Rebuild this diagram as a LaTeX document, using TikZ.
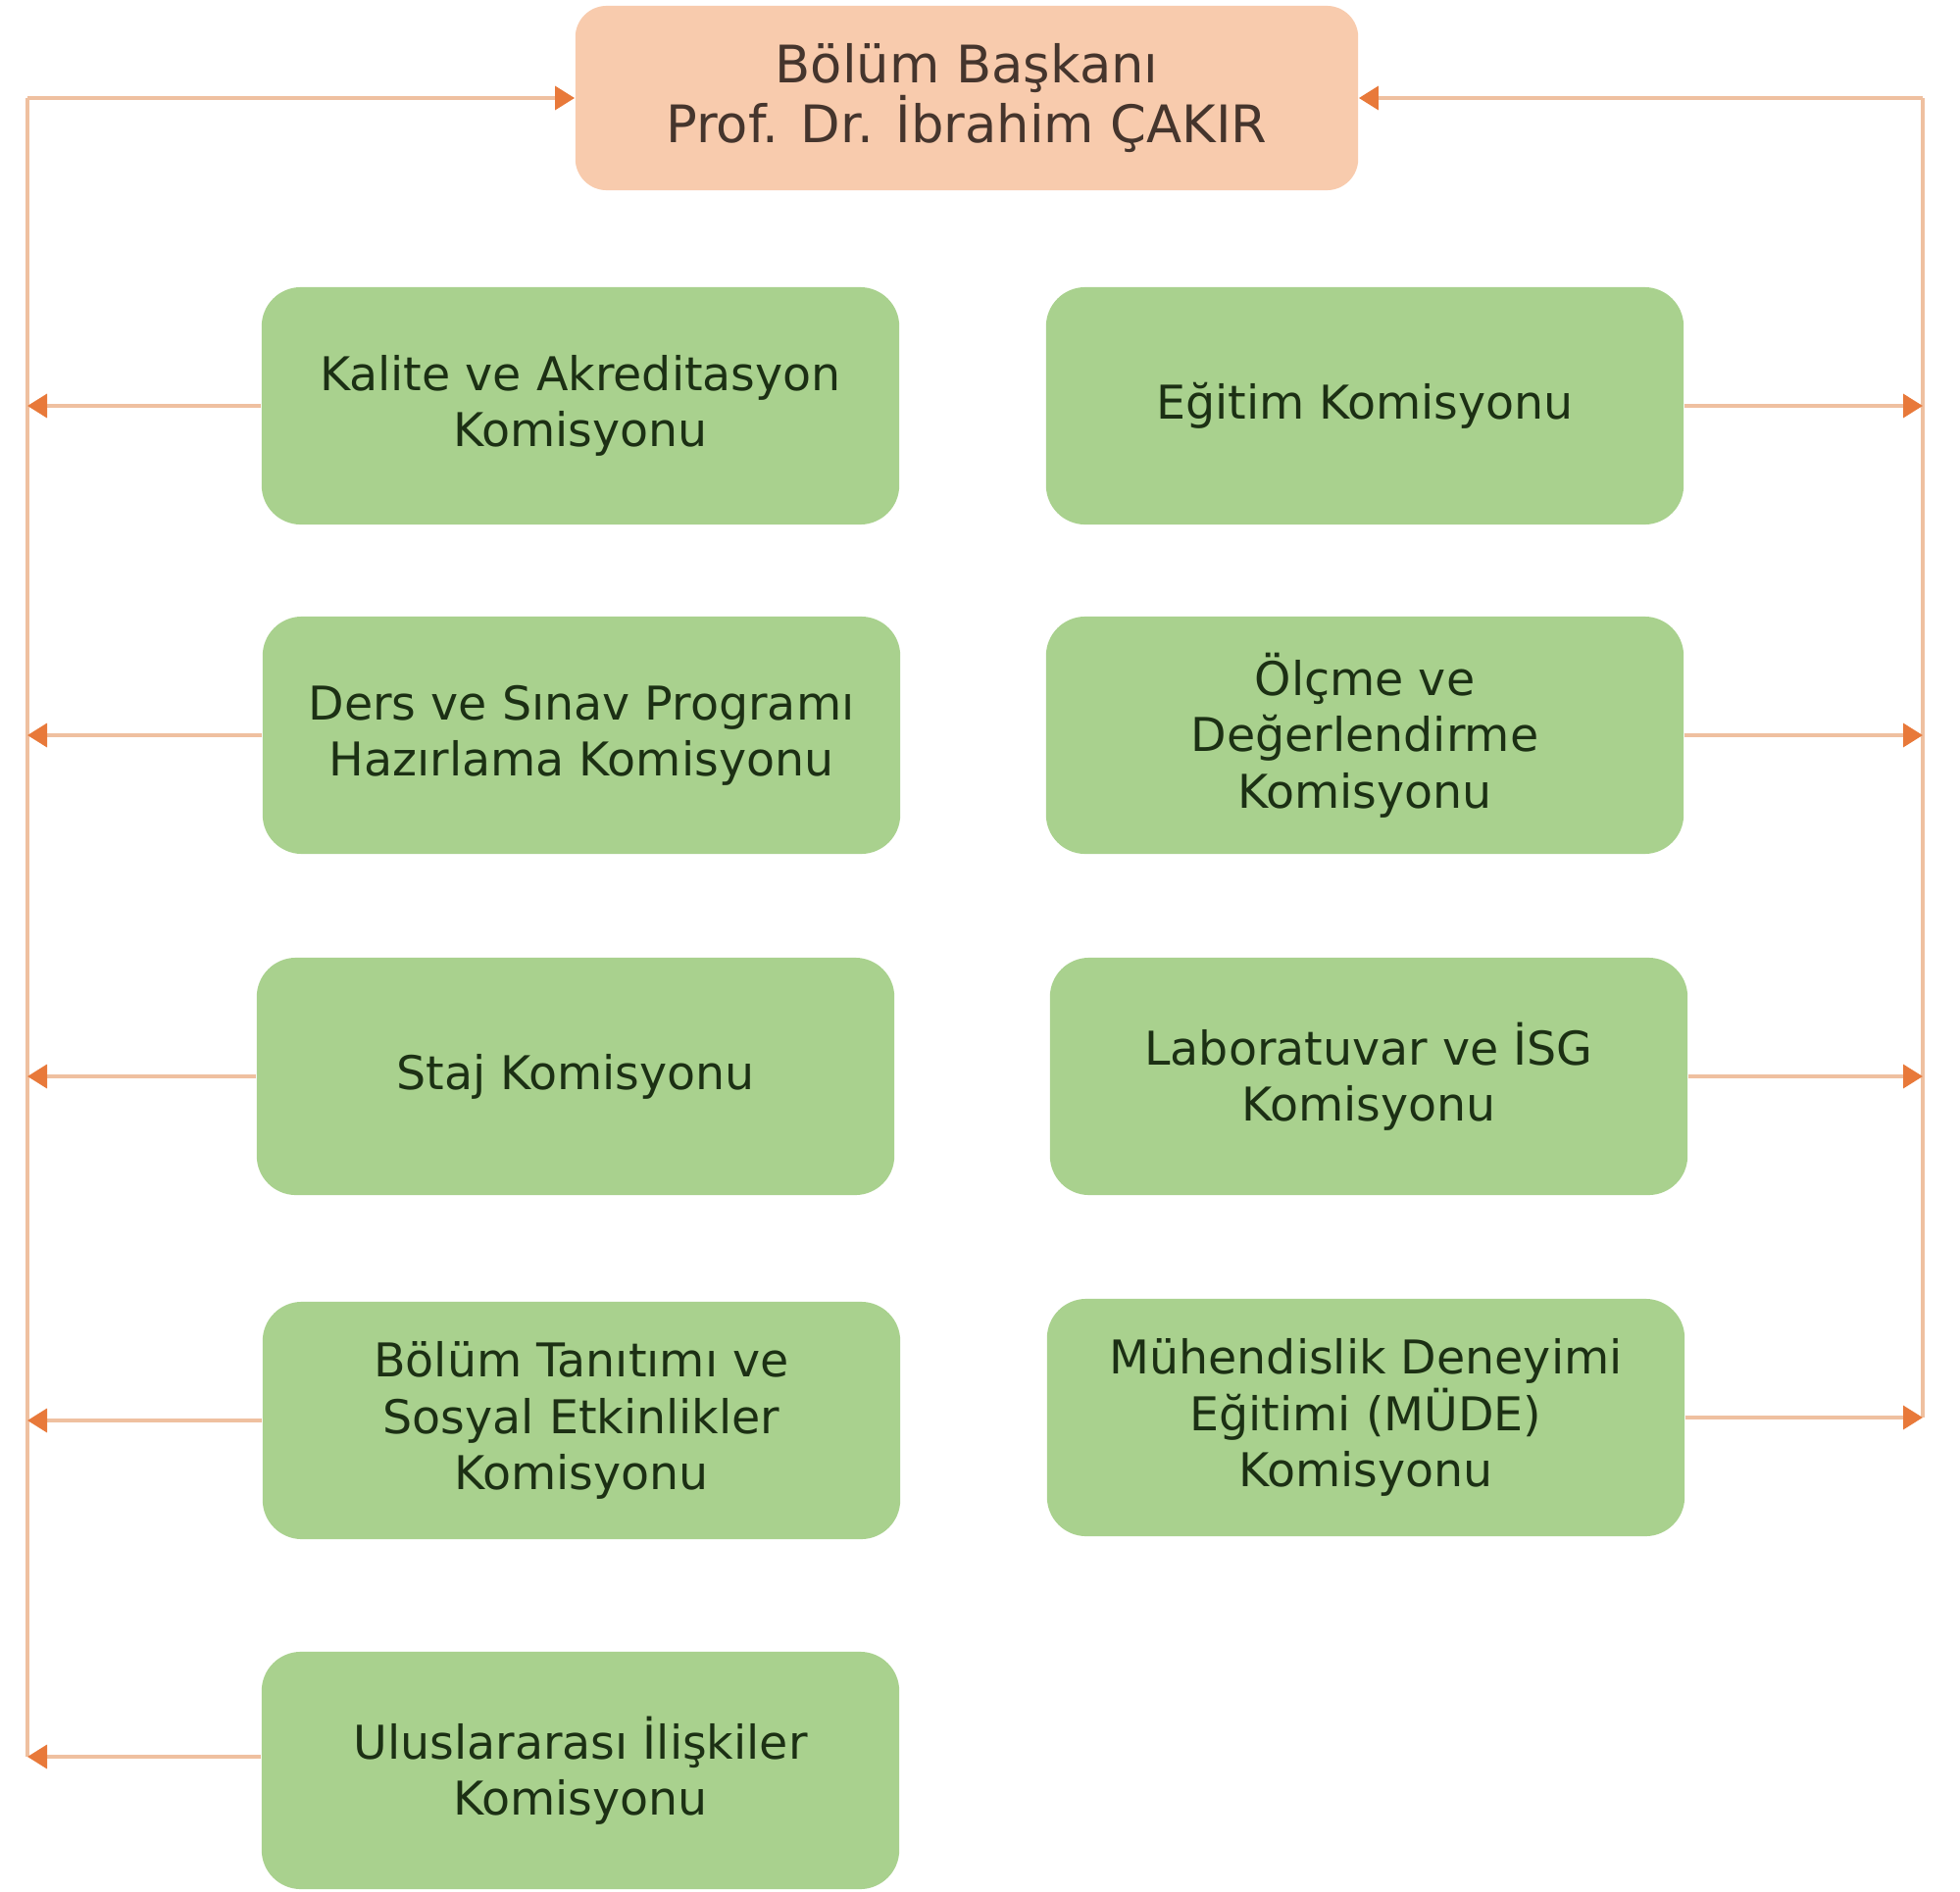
\documentclass[tikz,border=0pt]{standalone}
\usepackage{fontspec}
\setmainfont{DejaVu Sans}
\usetikzlibrary{arrows.meta}
\definecolor{boxgreen}{HTML}{A9D18E}
\definecolor{boxorange}{HTML}{F8CBAD}
\definecolor{linecol}{HTML}{EFC0A0}
\definecolor{tipcol}{HTML}{E8793A}
\definecolor{greentext}{HTML}{1C3014}
\definecolor{toptext}{HTML}{45352D}
\tikzset{
  headbox/.style={draw=none, fill=boxorange, rounded corners=0.32cm, minimum width=7.98cm, minimum height=1.88cm, align=center, text=toptext, font=\fontsize{15}{17.6}\selectfont},
  combox/.style={draw=none, fill=boxgreen, rounded corners=0.4cm, minimum width=6.5cm, minimum height=2.42cm, align=center, text=greentext, font=\fontsize{13.5}{16.3}\selectfont},
  link/.style={draw=linecol, line width=1pt},
  linkarrow/.style={link, -{Triangle[length=0.2cm, width=0.24cm, color=tipcol, fill=tipcol]}}
}
\begin{document}
\begin{tikzpicture}[x=0.01cm, y=-0.01cm]
\useasboundingbox (0,0) rectangle (1999,1930);
\node[headbox] (head) at (986,100) {Bölüm Başkanı\\Prof. Dr. İbrahim ÇAKIR};

\node[combox] (kal) at (592,414) {Kalite ve Akreditasyon\\Komisyonu};
\node[combox] (ders) at (593,750) {Ders ve Sınav Programı\\Hazırlama Komisyonu};
\node[combox] (staj) at (587,1098) {Staj Komisyonu};
\node[combox] (tan) at (593,1449) {Bölüm Tanıtımı ve\\Sosyal Etkinlikler\\Komisyonu};
\node[combox] (ulu) at (592,1806) {Uluslararası İlişkiler\\Komisyonu};

\node[combox] (egi) at (1392,414) {Eğitim Komisyonu};
\node[combox] (olc) at (1392,750) {Ölçme ve\\Değerlendirme\\Komisyonu};
\node[combox] (lab) at (1396,1098) {Laboratuvar ve İSG\\Komisyonu};
\node[combox] (muh) at (1393,1446) {Mühendislik Deneyimi\\Eğitimi (MÜDE)\\Komisyonu};

\coordinate (ltop) at (28,100);
\coordinate (lbot) at (28,1792);
\coordinate (rtop) at (1961,100);
\coordinate (rbot) at (1961,1446);

\draw[link] (lbot) -- (ltop);
\draw[link] (rbot) -- (rtop);
\draw[linkarrow] (ltop) -- (head.west);
\draw[linkarrow] (rtop) -- (head.east);

\foreach \n in {kal,ders,staj,tan}
  \draw[linkarrow] (\n.west) -- (\n.west -| ltop);
\draw[linkarrow] (ulu.west |- lbot) -- (lbot);
\foreach \n in {egi,olc,lab,muh}
  \draw[linkarrow] (\n.east) -- (\n.east -| rtop);
\end{tikzpicture}
\end{document}
